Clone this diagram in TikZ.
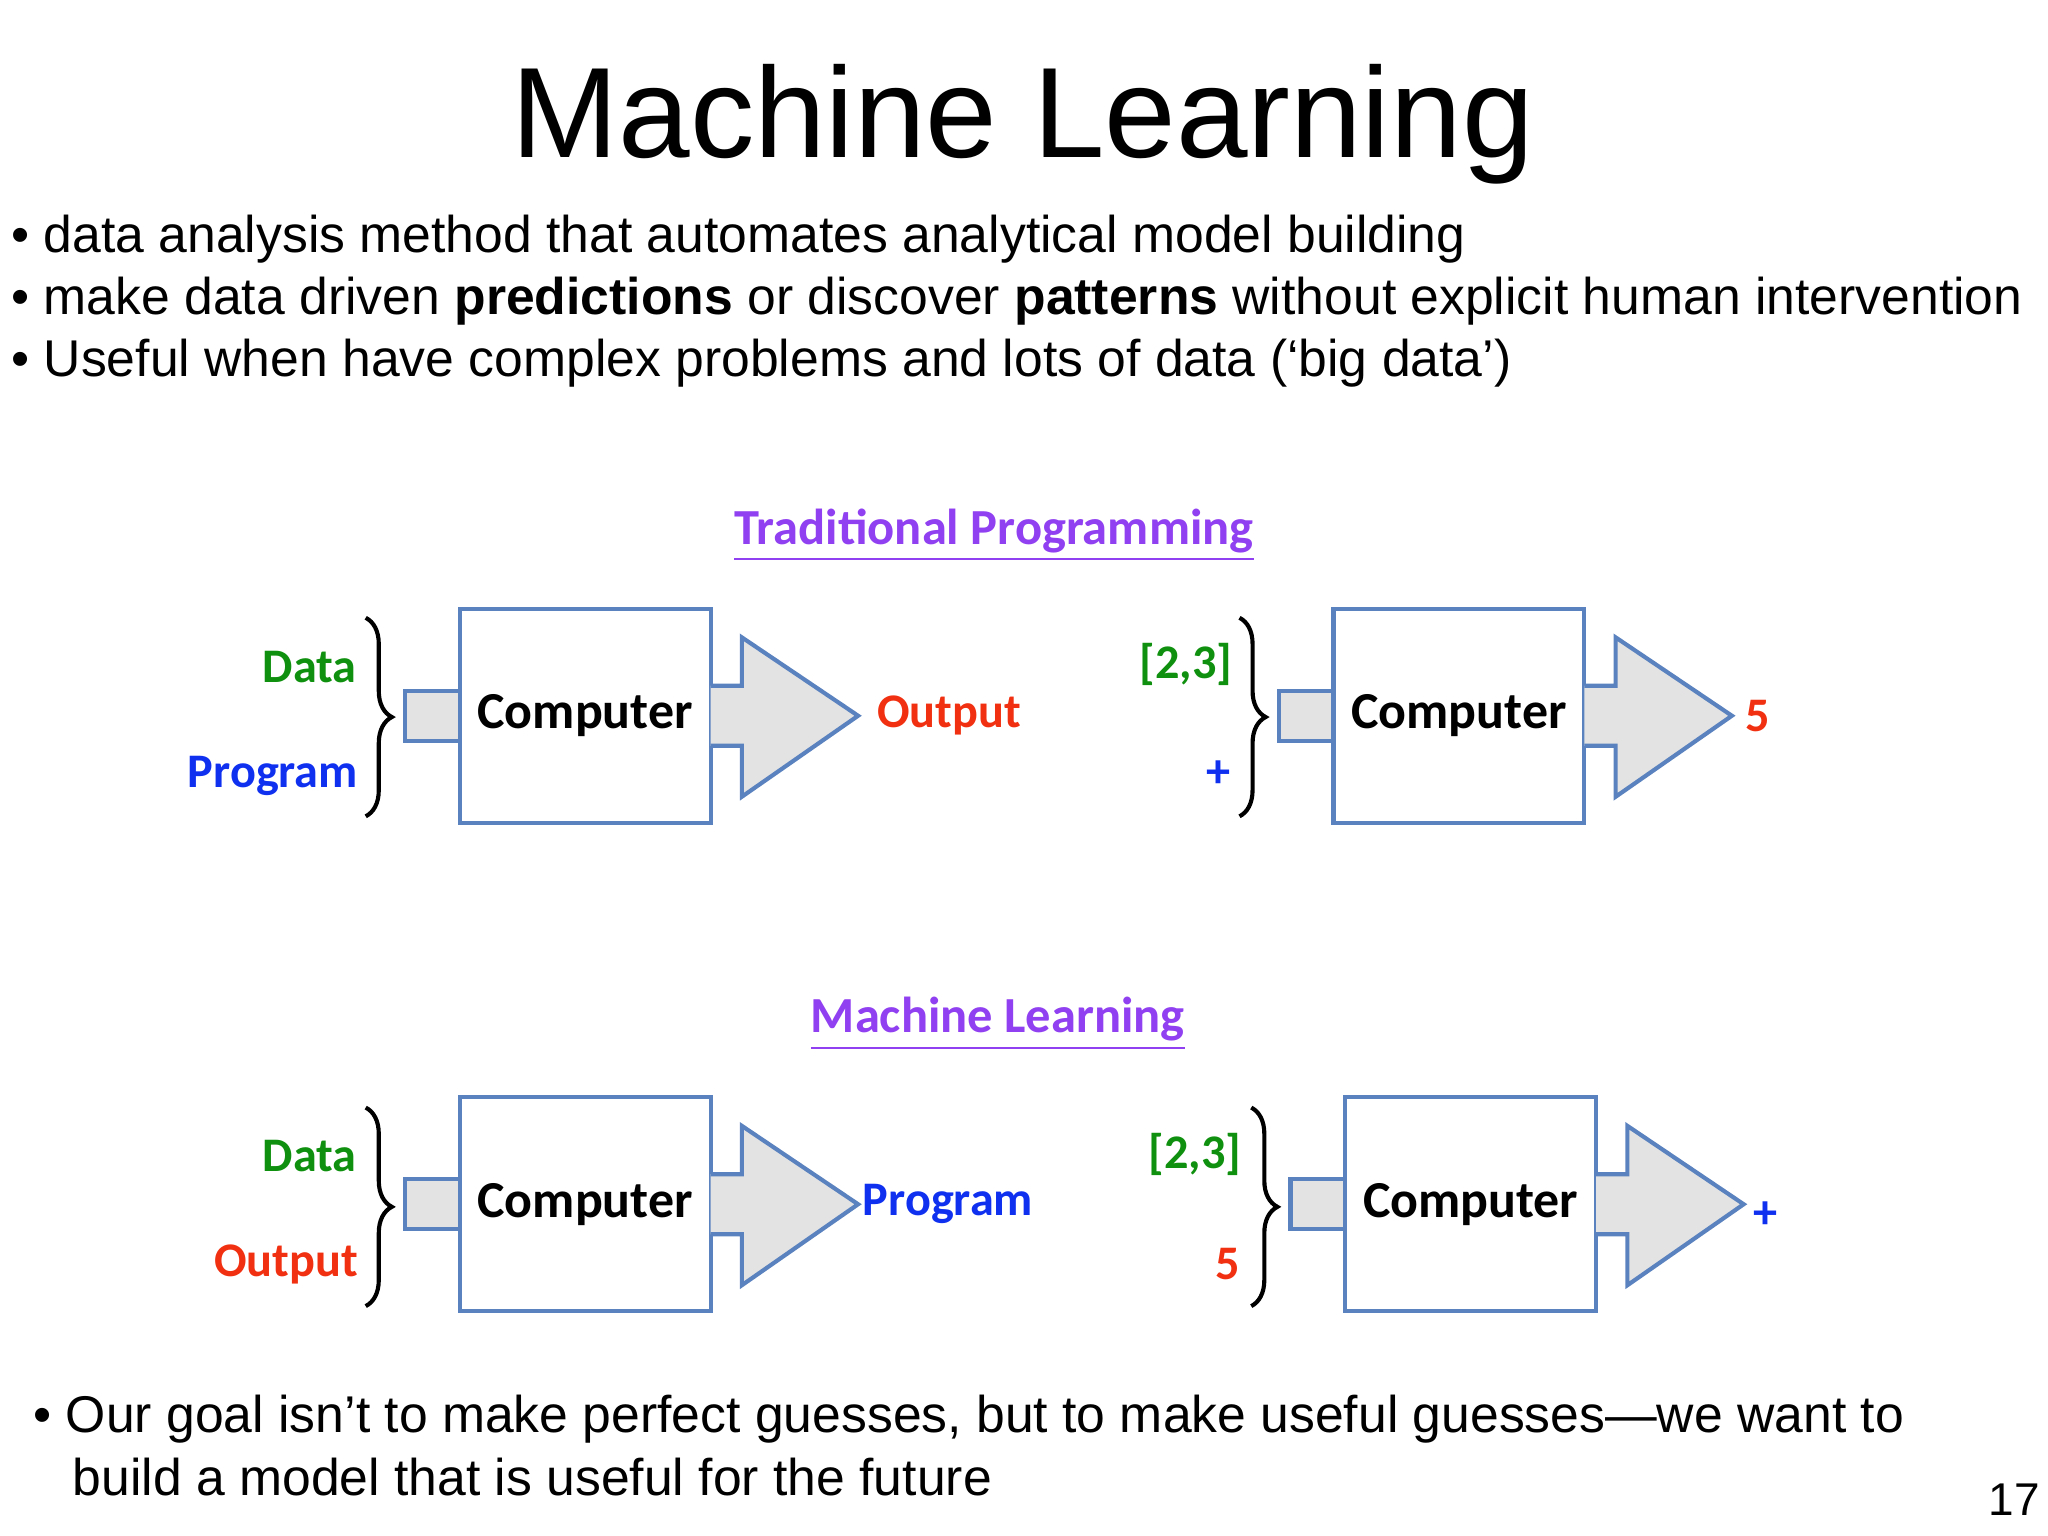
\documentclass[tikz,border=0pt]{standalone}
\usepackage{fontspec}
\setmainfont{Liberation Sans}
\newfontfamily\calfont{Carlito}
\usetikzlibrary{decorations.pathreplacing}
\definecolor{bx}{HTML}{5A82BE}
\definecolor{gr}{HTML}{10900F}
\definecolor{bl}{HTML}{1030F0}
\definecolor{rd}{HTML}{F03010}
\definecolor{pu}{HTML}{9040F0}
\begin{document}
\begin{tikzpicture}[x=0.01cm,y=-0.01cm,
  comp/.style={draw=bx,line width=0.9pt,fill=white,minimum width=1.92cm,minimum height=1.64cm,inner sep=0pt,font=\calfont\bfseries\fontsize{11.3}{13}\selectfont},
  inp/.style={draw=bx,line width=0.9pt,fill=gray!22,minimum width=0.42cm,minimum height=0.38cm,inner sep=0pt},
  arr/.style={draw=bx,line width=0.9pt,fill=gray!22,line join=miter},
  lab/.style={font=\calfont\bfseries\fontsize{10.5}{12}\selectfont,inner sep=0pt},
  hd/.style={font=\calfont\bfseries\fontsize{11}{12}\selectfont,text=pu,inner sep=1pt},
  brc/.style={decorate,decoration={brace,amplitude=0.2cm},line width=0.9pt},
  bul/.style={anchor=base west,inner sep=0pt,font=\fontsize{11.25}{13}\selectfont}]
\useasboundingbox (0,0) rectangle (1568,1176);
\node[font=\fontsize{28}{32}\selectfont] (title) at (783,95) {Machine Learning};
\node[bul] (b1) at (8,193) {\textbullet\ data analysis method that automates analytical model building};
\node[bul] (b2) at (8,241) {\textbullet\ make data driven \textbf{predictions} or discover \textbf{patterns} without explicit human intervention};
\node[bul] (b3) at (8,288) {\textbullet\ Useful when have complex problems and lots of data (‘big data’)};
\node[bul] (b4) at (25,1097) {\textbullet\ Our goal isn’t to make perfect guesses, but to make useful guesses—we want to};
\node[bul] (b5) at (55,1145) {build a model that is useful for the future};
\node[bul,font=\fontsize{10}{12}\selectfont] (pg) at (1522,1160) {17};
\node[hd] (h1) at (761,410) {\underline{Traditional Programming}};
\node[hd] (h2) at (764,784) {\underline{Machine Learning}};
\newcommand{\mlunit}[5]{%
  \node[inp] (#1i) at (#2-21,#3) {};
  \node[comp] (#1) at (#2+96,#3) {Computer};
  \draw[arr] (#2+192,#3-23) -- (#2+216,#3-23) -- (#2+216,#3-60) -- (#5,#3) -- (#2+216,#3+62) -- (#2+216,#3+23) -- (#2+192,#3+23);
  \coordinate (#1t) at (#5,#3);
}
\mlunit{c1}{352}{548}{192}{657}
\mlunit{c2}{1021}{548}{192}{1326}
\mlunit{c3}{352}{922}{192}{657}
\mlunit{c4}{1030}{922}{192}{1335}
\draw[brc] (280,473) -- (280,625);
\draw[brc] (949,473) -- (949,625);
\draw[brc] (280,848) -- (280,1000);
\draw[brc] (958,848) -- (958,1000);
\node[lab,text=gr] (d1) at (237,511) {Data};
\node[lab,text=bl] (p1) at (209,594) {Program};
\node[lab,text=rd,anchor=west] (o1) at ([xshift=0.14cm]c1t) {Output};
\node[lab,text=gr] (d2) at (908,509) {[2,3]};
\node[lab,text=bl] (p2) at (933,593) {+};
\node[lab,text=rd,anchor=west] (o2) at ([xshift=0.1cm]c2t) {5};
\node[lab,text=gr] (d3) at (237,885) {Data};
\node[lab,text=rd] (o3) at (219,968) {Output};
\node[lab,text=bl,anchor=west] (p3) at ([xshift=0.03cm]c3t) {Program};
\node[lab,text=gr] (d4) at (915,884) {[2,3]};
\node[lab,text=rd] (o4) at (940,968) {5};
\node[lab,text=bl,anchor=west] (p4) at ([xshift=0.07cm,yshift=-0.08cm]c4t) {+};
\end{tikzpicture}
\end{document}
